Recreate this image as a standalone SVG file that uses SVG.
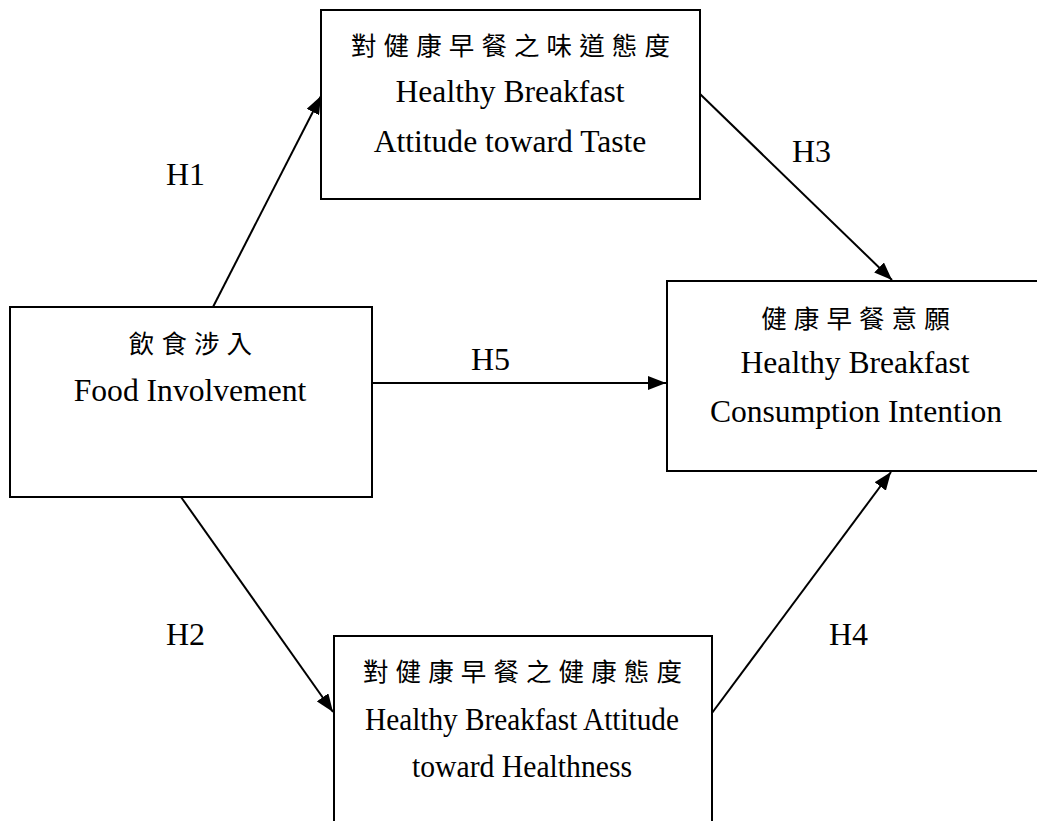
<svg xmlns="http://www.w3.org/2000/svg" width="1037" height="821" viewBox="0 0 1037 821">
<defs>
<style>
.box{fill:#fff;stroke:#000;stroke-width:2}
.en{font-family:"Liberation Serif","Times New Roman",serif;font-size:31.6px;fill:#000;text-anchor:middle}
.cjk{font-family:"Liberation Serif","Noto Sans CJK TC",serif;font-size:25.5px;letter-spacing:7.1px;fill:#000;text-anchor:middle}
.lbl{font-family:"Liberation Serif","Times New Roman",serif;font-size:32px;fill:#000}
.edge{stroke:#000;stroke-width:2;fill:none;marker-end:url(#arr)}
</style>
<marker id="arr" markerUnits="userSpaceOnUse" markerWidth="20" markerHeight="14" viewBox="0 0 20 14" refX="18" refY="7" orient="auto">
<path d="M0,0 L18,7 L0,14 Z" fill="#000"/>
</marker>
</defs>
<rect width="1037" height="821" fill="#fff"/>
<g id="connectors">
<line class="edge" x1="213" y1="307" x2="321" y2="96"/>
<line class="edge" x1="700" y1="94" x2="892" y2="280"/>
<line class="edge" x1="372" y1="383" x2="666" y2="383"/>
<line class="edge" x1="181" y1="497" x2="333" y2="712"/>
<line class="edge" x1="712" y1="713" x2="891" y2="472"/>
</g>
<g id="labels">
<text class="lbl" x="166" y="185">H1</text>
<text class="lbl" x="792" y="162">H3</text>
<text class="lbl" x="471" y="370">H5</text>
<text class="lbl" x="166" y="645">H2</text>
<text class="lbl" x="829" y="645">H4</text>
</g>
<g id="node-taste">
<rect class="box" x="321" y="10" width="379" height="189"/>
<text class="cjk" x="514" y="55">對健康早餐之味道態度</text>
<text class="en" x="510" y="102">Healthy Breakfast</text>
<text class="en" x="510" y="152">Attitude toward Taste</text>
</g>
<g id="node-food">
<rect class="box" x="10" y="307" width="362" height="190"/>
<text class="cjk" x="194" y="353">飲食涉入</text>
<text class="en" x="190" y="401">Food Involvement</text>
</g>
<g id="node-intention">
<rect class="box" x="667" y="281" width="380" height="190"/>
<text class="cjk" x="859" y="328">健康早餐意願</text>
<text class="en" x="855" y="373">Healthy Breakfast</text>
<text class="en" x="856" y="422">Consumption Intention</text>
</g>
<g id="node-health">
<rect class="box" x="334" y="636" width="378" height="200"/>
<text class="cjk" x="526" y="681">對健康早餐之健康態度</text>
<text class="en" x="522" y="730" textLength="314" lengthAdjust="spacingAndGlyphs">Healthy Breakfast Attitude</text>
<text class="en" x="522" y="777" textLength="220" lengthAdjust="spacingAndGlyphs">toward Healthness</text>
</g>
</svg>
